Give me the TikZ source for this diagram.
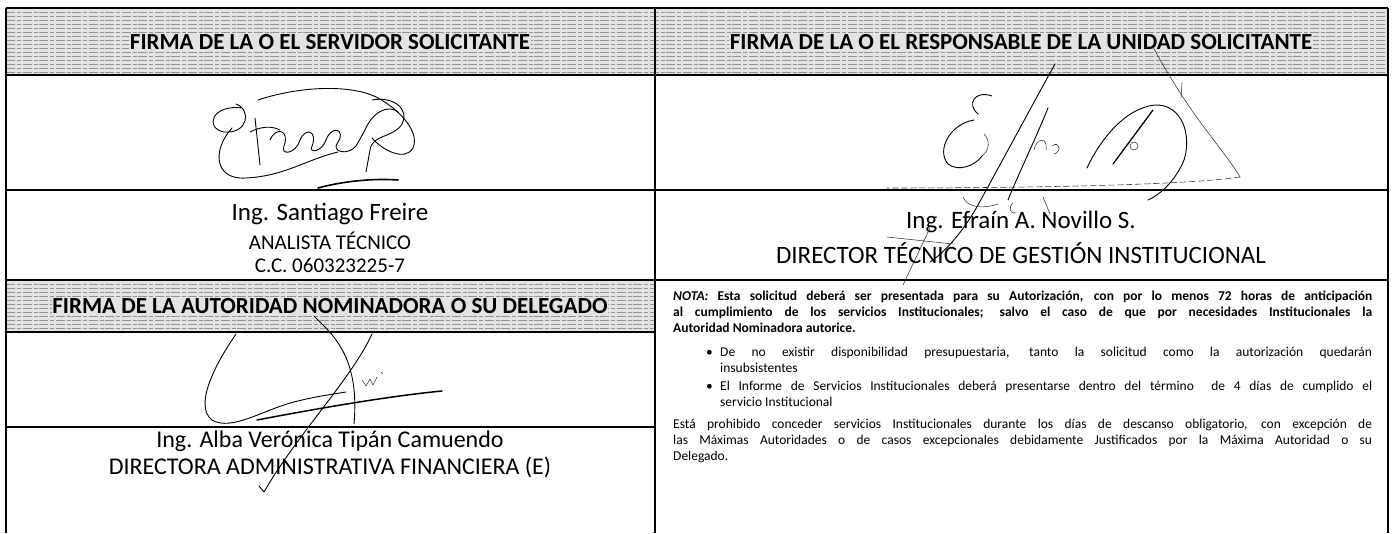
\documentclass[tikz,border=0pt]{standalone}
\usepackage{fontspec}
\setmainfont{Carlito}
\begin{document}
\begin{tikzpicture}[x=1pt,y=-1pt]
\tikzset{
  hdrtext/.style={font=\fontsize{23}{26}\selectfont\bfseries, inner sep=0.5pt},
  nametext/.style={font=\fontsize{25}{28}\selectfont, inner sep=0pt},
  subtext/.style={font=\fontsize{21}{24}\selectfont, inner sep=0pt},
  lowtext/.style={font=\fontsize{24}{27}\selectfont, inner sep=0pt},
  noteline/.style={font=\fontsize{13.5}{16}\selectfont, inner sep=0pt, anchor=base west},
  framerule/.style={line width=1.8pt},
  cellrule/.style={line width=1.1pt},
  hdrfill/.style={black!11},
  hatch/.style={black!42, line width=0.45pt, dash pattern=on 9pt off 2pt on 4pt off 1.5pt},
  sig/.style={line width=0.9pt, line cap=round, line join=round},
  sigthin/.style={line width=0.55pt, line cap=round, line join=round, black!80},
}
\useasboundingbox (0,0) rectangle (1394,533);
\fill[white] (0,0) rectangle (1394,533);

% header fills with scan texture
\fill[hdrfill] (6,8) rectangle (1388,75);
\fill[hdrfill] (6,280) rectangle (655,332);
\foreach \yy in {12,16,...,72} {\draw[hatch] (6,\yy) -- (1388,\yy);}
\foreach \yy in {284,288,...,330} {\draw[hatch] (6,\yy) -- (655,\yy);}

% header texts
\node[hdrtext, fill=black!11] (h1) at (330,42) {FIRMA DE LA O EL SERVIDOR SOLICITANTE};
\node[hdrtext, fill=black!11] (h2) at (1021,42) {FIRMA DE LA O EL RESPONSABLE DE LA UNIDAD SOLICITANTE};
\node[hdrtext, fill=black!11] (h3) at (330,306) {FIRMA DE LA AUTORIDAD NOMINADORA O SU DELEGADO};

% names
\node[nametext] (n1) at (330,214) {Ing. Santiago Freire};
\node[subtext] (n2) at (330,241) {ANALISTA TÉCNICO};
\node[subtext] (n3) at (330,265) {C.C. 060323225-7};
\node[nametext] (n4) at (1021,222) {Ing. Efraín A. Novillo S.};
\node[nametext] (n5) at (1021,253) {DIRECTOR TÉCNICO DE GESTIÓN INSTITUCIONAL};
\node[lowtext] (n6) at (330,441) {Ing. Alba Verónica Tipán Camuendo};
\node[lowtext] (n7) at (330,467) {DIRECTORA ADMINISTRATIVA FINANCIERA (E)};

% note text
\node[noteline] (l1) at (673,300) {\bfseries\makebox[699pt][s]{\itshape NOTA:\upshape\ Esta solicitud deberá ser presentada para su Autorización, con por lo menos 72 horas de anticipación}};
\node[noteline] (l2) at (673,316) {\bfseries\makebox[699pt][s]{al cumplimiento de los servicios Institucionales; salvo el caso de que por necesidades Institucionales la}};
\node[noteline] (l3) at (673,332) {\bfseries Autoridad Nominadora autorice.};
\node[noteline] (d1) at (706,356) {•};
\node[noteline] (l4) at (720,356) {\makebox[652pt][s]{De no existir disponibilidad presupuestaria, tanto la solicitud como la autorización quedarán}};
\node[noteline] (l5) at (720,372) {insubsistentes};
\node[noteline] (d2) at (706,390) {•};
\node[noteline] (l6) at (720,390) {\makebox[652pt][s]{El Informe de Servicios Institucionales deberá presentarse dentro del término \ de 4 días de cumplido el}};
\node[noteline] (l7) at (720,406) {servicio Institucional};
\node[noteline] (l8) at (673,428) {\makebox[699pt][s]{Está prohibido conceder servicios Institucionales durante los días de descanso obligatorio, con excepción de}};
\node[noteline] (l9) at (673,444) {\makebox[699pt][s]{las Máximas Autoridades o de casos excepcionales debidamente Justificados por la Máxima Autoridad o su}};
\node[noteline] (l10) at (673,460) {Delegado.};

% table rules
\draw[cellrule] (6,75) -- (1388,75);
\draw[cellrule] (6,190) -- (1388,190);
\draw[cellrule] (6,280) -- (1388,280);
\draw[cellrule] (6,332) -- (655,332);
\draw[cellrule] (6,427) -- (655,427);
\draw[framerule] (6,8) -- (1388,8);
\draw[framerule] (6,8) -- (6,533);
\draw[framerule] (655,8) -- (655,533);
\draw[framerule] (1388,8) -- (1388,533);

% signature 1 (Santiago Freire)
\draw[sig] (258,100) .. controls (300,86) and (352,84) .. (378,98)
  .. controls (400,110) and (420,132) .. (413,148) .. controls (405,162) and (382,150) .. (372,138);
\draw[sig] (242,108) .. controls (212,104) and (204,128) .. (224,132) .. controls (248,134) and (252,110) .. (236,104);
\draw[sig] (232,128) .. controls (212,150) and (214,180) .. (246,178) .. controls (285,176) and (305,160) .. (338,152);
\draw[sig] (255,118) -- (260,165);
\draw[sig] (250,132) .. controls (262,126) and (272,126) .. (280,130);
\draw[sig] (270,140) .. controls (276,126) and (290,130) .. (284,146) .. controls (280,156) and (296,154) .. (300,140);
\draw[sig] (300,140) .. controls (306,126) and (318,132) .. (312,146) .. controls (308,154) and (322,152) .. (326,140);
\draw[sig] (326,140) .. controls (332,124) and (346,130) .. (338,142) .. controls (330,152) and (348,156) .. (356,146);
\draw[sig] (356,146) -- (364,132) .. controls (372,112) and (388,104) .. (398,112);
\draw[sig] (372,100) .. controls (392,96) and (410,108) .. (402,124) .. controls (394,138) and (372,134) .. (370,150) -- (366,172);
\draw[line width=1.6pt, line cap=round] (318,188) .. controls (340,182) and (370,178) .. (398,180);

% signature 2 (Efrain Novillo)
\draw[sig] (1055,64) .. controls (1035,100) and (1000,165) .. (978,205) .. controls (965,228) and (948,250) .. (930,262);
\draw[sig] (1048,108) .. controls (1035,140) and (1018,175) .. (1008,200);
\draw[sigthin] (903,285) -- (930,228);
\draw[sigthin] (887,237) -- (953,244);
\draw[sig] (992,96) .. controls (975,90) and (966,104) .. (978,114);
\draw[sig] (974,120) .. controls (950,124) and (936,150) .. (948,164) .. controls (958,172) and (975,166) .. (982,156);
\draw[sigthin] (984,134) .. controls (990,140) and (990,150) .. (982,156);
\draw[sigthin] (1034,150) .. controls (1036,138) and (1048,136) .. (1046,150);
\draw[sigthin] (1052,146) .. controls (1060,140) and (1062,152) .. (1054,154);
\draw[sig] (1087,168) .. controls (1100,140) and (1125,108) .. (1155,105)
  .. controls (1182,104) and (1192,135) .. (1184,160) .. controls (1176,180) and (1160,195) .. (1148,200);
\draw[line width=1.3pt, line cap=round] (1113,164) -- (1153,110);
\draw[sigthin] (1134,146) circle (4);
\draw[sigthin] (1153,47) .. controls (1165,70) and (1190,110) .. (1210,135) .. controls (1225,155) and (1235,168) .. (1240,177);
\draw[sigthin, dash pattern=on 6pt off 3pt] (1240,177) .. controls (1180,186) and (1000,188) .. (887,188);
\draw[sigthin] (1182,83) -- (1181,98);
\draw[sigthin] (1013,203) .. controls (1008,208) and (1010,214) .. (1016,213);
\draw[sigthin] (1043,197) -- (1050,214);
\draw[sigthin] (963,197) .. controls (966,206) and (980,210) .. (998,204);

% signature 3 (Alba Tipan)
\draw[sig] (236,334) .. controls (214,366) and (194,406) .. (212,420) .. controls (232,432) and (266,408) .. (298,401) .. controls (318,396) and (334,394) .. (346,392);
\draw[sig] (372,334) .. controls (352,378) and (296,436) .. (264,492) -- (259,486);
\draw[sig] (314,316) .. controls (332,334) and (360,356) .. (354,424);
\draw[line width=1.5pt, line cap=round] (257,420) .. controls (320,408) and (390,396) .. (442,391);
\draw[sigthin] (362,380) -- (366,386) -- (370,379) -- (373,385) -- (377,377);
\draw[sigthin] (381,372) -- (383,374);
\end{tikzpicture}
\end{document}
